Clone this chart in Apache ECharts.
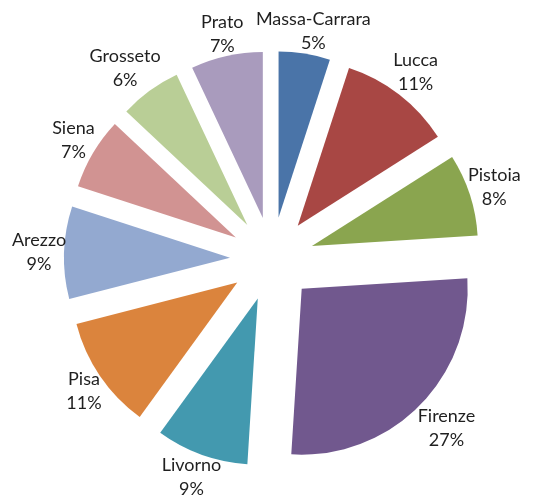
<!DOCTYPE html>
<html>
<head>
<meta charset="utf-8">
<script src="https://cdn.jsdelivr.net/npm/echarts@6/dist/echarts.min.js"></script>
<style>
  html, body { margin: 0; padding: 0; background: #fff; }
  #chart { width: 537px; height: 501px; }
</style>
</head>
<body>
<div id="chart"></div>
<script>
  // province shares (percent), clockwise from 12 o'clock
  var provinces = ['Massa-Carrara', 'Lucca', 'Pistoia', 'Firenze', 'Livorno', 'Pisa', 'Arezzo', 'Siena', 'Grosseto', 'Prato']
  var shares = [5, 11, 8, 27, 9, 11, 9, 7, 6, 7]
  var colors = ['#4a74a8', '#a84744', '#8aa54f', '#71588e', '#4399af', '#db843d', '#93a9d0', '#d19392', '#b9ce96', '#a99bbd']

  var cx = 272, cy = 259
  var total = shares.reduce(function (a, b) { return a + b }, 0)

  var chart = echarts.init(document.getElementById('chart'))

  var sliceData = provinces.map(function (name, i) {
    return {name: name, value: shares[i], selected: true, itemStyle: {color: colors[i]}}
  })
  var labelData = provinces.map(function (name, i) {
    return {name: name, value: shares[i]}
  })

  // excel-like placement: label box sits just outside the exploded slice,
  // pushed out by its own half-size along the slice bisector
  function placeLabel(params) {
    var before = 0
    for (var k = 0; k < params.dataIndex; k++) before += shares[k]
    var mid = (before + shares[params.dataIndex] / 2) / total * Math.PI * 2
    var s = Math.sin(mid), c = Math.cos(mid)
    var r = params.labelRect
    var m = Math.max(Math.abs(s), Math.abs(c))
    var dist = 206
    return {
      x: cx + dist * s + (s / m) * r.width / 2,
      y: cy - dist * c - (c / m) * r.height / 2
    }
  }

  chart.setOption({
    animation: false,
    series: [
      {
        type: 'pie',
        center: [cx, cy],
        radius: 166,
        startAngle: 90,
        clockwise: true,
        selectedMode: 'multiple',
        selectedOffset: 42,
        silent: true,
        label: {show: false},
        labelLine: {show: false},
        itemStyle: {borderWidth: 0},
        emphasis: {disabled: true},
        data: sliceData
      },
      {
        // invisible ring that only carries the category labels
        type: 'pie',
        center: [cx, cy],
        radius: [200, 230],
        startAngle: 90,
        clockwise: true,
        silent: true,
        itemStyle: {color: 'rgba(0,0,0,0)'},
        emphasis: {disabled: true},
        labelLine: {show: false},
        label: {
          show: true,
          position: 'inside',
          formatter: '{b}\n{d}%',
          color: '#1f1f1f',
          fontFamily: 'Lato',
          fontSize: 18,
          lineHeight: 24,
          align: 'center',
          verticalAlign: 'middle'
        },
        labelLayout: placeLabel,
        data: labelData
      }
    ]
  })
</script>
</body>
</html>
